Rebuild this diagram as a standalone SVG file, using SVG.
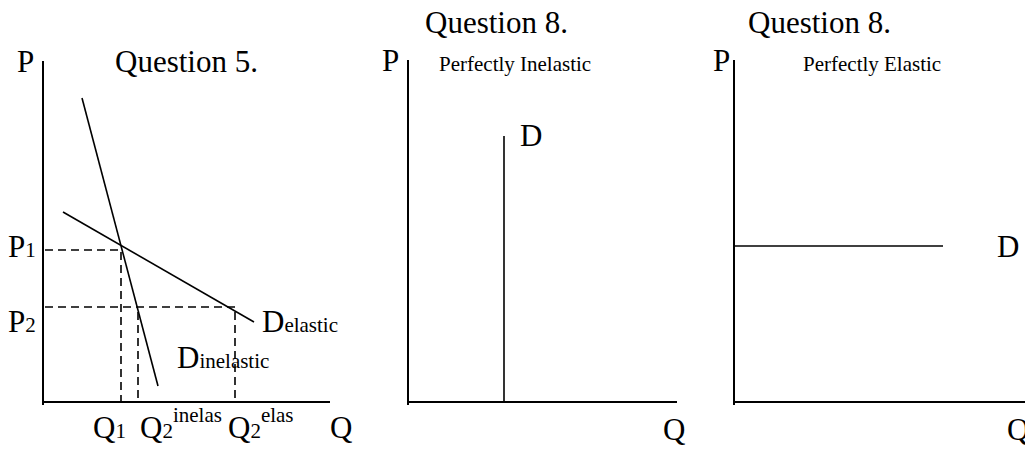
<svg xmlns="http://www.w3.org/2000/svg" width="1025" height="449" viewBox="0 0 1025 449">
<style>
text{font-family:"Liberation Serif","Times New Roman",serif;fill:#000}
.big{font-size:31px}
.sm{font-size:21px}
.axis{stroke:#000;stroke-width:2;fill:none}
.curve{stroke:#000;stroke-width:1.6;fill:none}
.dash{stroke:#000;stroke-width:1.6;fill:none;stroke-dasharray:8 5}
</style>
<rect width="1025" height="449" fill="#fff"/>
<g id="chart1">
  <line class="axis" x1="43" y1="61" x2="43" y2="405"/>
  <line class="axis" x1="42" y1="402" x2="330" y2="402"/>
  <text class="big" x="17" y="72">P</text>
  <text class="big" x="115" y="72">Question 5.</text>
  <text class="big" x="8" y="257">P<tspan class="sm">1</tspan></text>
  <text class="big" x="8" y="332">P<tspan class="sm">2</tspan></text>
  <text class="big" x="262" y="332">D<tspan class="sm">elastic</tspan></text>
  <text class="big" x="177" y="368">D<tspan class="sm">inelastic</tspan></text>
  <text class="big" x="93" y="438">Q<tspan class="sm">1</tspan></text>
  <text class="big" x="140" y="438">Q<tspan class="sm">2</tspan><tspan class="sm" dy="-16">inelas</tspan></text>
  <text class="big" x="228" y="438">Q<tspan class="sm">2</tspan><tspan class="sm" dy="-16">elas</tspan></text>
  <text class="big" x="330" y="438">Q</text>
</g>
<g id="chart2">
  <line class="axis" x1="408" y1="60" x2="408" y2="405"/>
  <line class="axis" x1="407" y1="402" x2="677" y2="402"/>
  <text class="big" x="425" y="33">Question 8.</text>
  <text class="big" x="382" y="71">P</text>
  <text class="sm" x="439" y="71">Perfectly Inelastic</text>
  <text class="big" x="520" y="146">D</text>
  <text class="big" x="663" y="440">Q</text>
</g>
<g id="chart3">
  <line class="axis" x1="734" y1="60" x2="734" y2="405"/>
  <line class="axis" x1="733" y1="402" x2="1025" y2="402"/>
  <text class="big" x="748" y="33">Question 8.</text>
  <text class="big" x="713" y="71">P</text>
  <text class="sm" x="803" y="71">Perfectly Elastic</text>
  <text class="big" x="997" y="257">D</text>
  <text class="big" x="1007" y="440">Q</text>
</g>
<g id="connectors">
  <line class="curve" x1="82" y1="98" x2="158" y2="386"/>
  <line class="curve" x1="63" y1="212" x2="254" y2="322"/>
  <polyline class="dash" points="45,250 121,250 121,402"/>
  <polyline class="dash" points="45,307 235,307 235,402"/>
  <line class="dash" x1="138" y1="312" x2="138" y2="402"/>
  <line class="curve" x1="504" y1="136" x2="504" y2="402"/>
  <line class="curve" x1="734" y1="246" x2="943" y2="246"/>
</g>
</svg>
